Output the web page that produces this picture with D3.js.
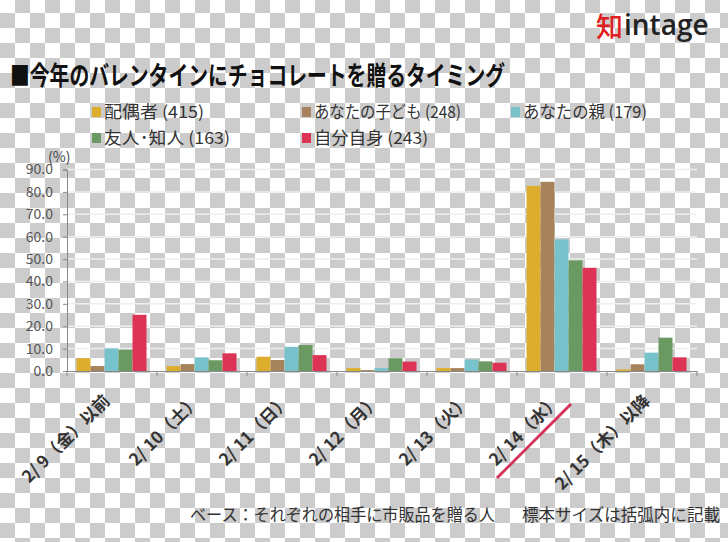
<!DOCTYPE html>
<html><head><meta charset="utf-8">
<script src="https://cdn.jsdelivr.net/npm/d3@7"></script>
<style>html,body{margin:0;padding:0;background:#fff;}svg{display:block;}</style>
</head><body>
<svg id="chart" width="728" height="542"></svg>
<script>
const categories = ["2/ 9（金）以前","2/ 10（土）","2/ 11（日）","2/ 12（月）","2/ 13（火）","2/ 14（水）","2/ 15（木）以降"];
const seriesNames = ["配偶者 (415)","あなたの子ども (248)","あなたの親 (179)","友人･知人 (163)","自分自身 (243)"];
const spouse   = [5.7, 2.2, 6.4, 1.3, 1.3, 82.7, 0.7];
const children = [2.2, 3.1, 4.9, 0.4, 1.3, 84.5, 3.0];
const parents  = [10.1, 6.1, 10.8, 1.3, 5.1, 58.8, 8.2];
const friends  = [9.5, 4.8, 11.6, 5.7, 4.3, 49.4, 14.9];
const self     = [25.1, 7.9, 7.1, 4.2, 3.7, 46.1, 6.1];
const yTicks = [0,10,20,30,40,50,60,70,80,90];
const colors = ["#DDAE2E","#A6835A","#78C2CB","#6A9A62","#DD3355"];
const titleText = "■今年のバレンタインにチョコレートを贈るタイミング";
const footerA = "ベース：それぞれの相手に市販品を贈る人";
const footerB = "標本サイズは括弧内に記載";

const seriesValues = [spouse, children, parents, friends, self];
const svg = d3.select("#chart");
const FONT = "'Noto Sans CJK JP','Noto Sans',sans-serif";

// checkerboard background
const defs = svg.append("defs");
const pat = defs.append("pattern").attr("id","checker").attr("patternUnits","userSpaceOnUse")
  .attr("x",0).attr("y",-2).attr("width",30).attr("height",30);
pat.append("rect").attr("width",30).attr("height",30).attr("fill","#ffffff");
pat.append("rect").attr("x",15).attr("y",0).attr("width",15).attr("height",15).attr("fill","#cccccc");
pat.append("rect").attr("x",0).attr("y",15).attr("width",15).attr("height",15).attr("fill","#cccccc");
svg.append("rect").attr("width",728).attr("height",542).attr("fill","url(#checker)");

// scales
const x0 = d3.scaleBand().domain(categories).range([67, 697]).padding(0);
const x1 = d3.scaleBand().domain(seriesNames).range([9.5, 79.5]).padding(0);
const y = d3.scaleLinear().domain([0, 90]).range([371, 169.5]);

// gridlines
svg.append("g").selectAll("line").data(yTicks.filter(d=>d>0)).join("line")
  .attr("x1",67).attr("x2",697).attr("y1",d=>y(d)).attr("y2",d=>y(d))
  .attr("stroke","#eeeeee").attr("stroke-width",1.5);

// bars
const g = svg.append("g");
categories.forEach((c, ci) => {
  seriesNames.forEach((s, si) => {
    const v = seriesValues[si][ci];
    g.append("rect")
      .attr("x", x0(c) + x1(s))
      .attr("width", x1.bandwidth())
      .attr("y", y(v))
      .attr("height", y(0) - y(v))
      .attr("fill", colors[si]);
  });
});

// y axis
const yAxis = d3.axisLeft(y).tickValues(yTicks).tickFormat(d3.format(".1f")).tickSize(4).tickPadding(10);
const ya = svg.append("g").attr("transform","translate(67,0)").call(yAxis);
ya.select(".domain").attr("stroke","#888");
ya.selectAll(".tick line").attr("stroke","#888");
ya.selectAll(".tick text").attr("font-family",FONT).attr("font-size",14).attr("fill","#555");

// x axis
const xAxis = d3.axisBottom(x0).tickSize(0).tickFormat("");
const xa = svg.append("g").attr("transform","translate(0,371)").call(xAxis);
xa.select(".domain").attr("stroke","#888");
xa.selectAll(".tick").remove();
svg.append("g").selectAll("line").data(d3.range(categories.length+1)).join("line")
  .attr("x1",i=>67+i*x0.step()).attr("x2",i=>67+i*x0.step())
  .attr("y1",371).attr("y2",376).attr("stroke","#888");

// x labels (rotated)
svg.append("g").selectAll("text").data(categories).join("text")
  .attr("transform", d => `translate(${x0(d)+x0.bandwidth()/2-1},${402}) rotate(-45)`)
  .attr("text-anchor","end")
  .attr("font-family",FONT).attr("font-weight","bold").attr("font-size",17).attr("fill","#333")
  .text(d=>d);

// red underline for 2/14
const c14 = x0(categories[5]) + x0.bandwidth()/2;
svg.append("line").attr("x1",c14-65).attr("y1",478).attr("x2",c14+9).attr("y2",404)
  .attr("stroke","#D6335A").attr("stroke-width",3);

// (%)
svg.append("text").attr("x",48).attr("y",162).attr("font-family",FONT).attr("font-size",14).attr("fill","#444").text("(%)");

// title
svg.append("text").attr("x",10).attr("y",85).attr("font-family",FONT).attr("font-weight","bold")
  .attr("font-size",26).attr("fill","#111").attr("textLength",495).attr("lengthAdjust","spacingAndGlyphs")
  .text(titleText);

// legend
const legendPos = [[92,112],[302,112],[511,112],[92,138],[302,138]];
const legendWidths = [100,147,124,126,114];
seriesNames.forEach((s,i)=>{
  const [lx,ly] = legendPos[i];
  svg.append("rect").attr("x",lx).attr("y",ly-5).attr("width",9).attr("height",10).attr("fill",colors[i]);
  svg.append("text").attr("x",lx+12).attr("y",ly+6).attr("font-family",FONT).attr("font-size",16.5).attr("fill","#333")
    .attr("textLength",legendWidths[i]).attr("lengthAdjust","spacingAndGlyphs").text(s);
});

// footer
svg.append("text").attr("x",190).attr("y",521).attr("font-family",FONT).attr("font-size",16.5).attr("fill","#333")
  .attr("textLength",305).attr("lengthAdjust","spacingAndGlyphs").text(footerA);
svg.append("text").attr("x",522).attr("y",521).attr("font-family",FONT).attr("font-size",16.5).attr("fill","#333")
  .attr("textLength",198).attr("lengthAdjust","spacingAndGlyphs").text(footerB);

// logo
svg.append("text").attr("x",596).attr("y",37).attr("font-family",FONT).attr("font-size",27).attr("font-weight",500).attr("fill","#E02020").text("知");
svg.append("text").attr("x",624).attr("y",35).attr("font-family","'Open Sans',sans-serif").attr("font-size",28).attr("font-weight",600).attr("fill","#222").text("intage");
</script>
</body></html>
